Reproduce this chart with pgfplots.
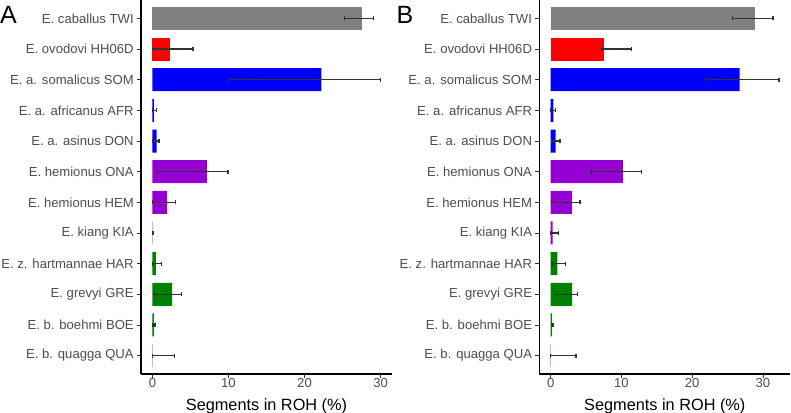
\documentclass[border=0pt]{standalone}
\usepackage{pgfplots}
\pgfplotsset{compat=1.18}
\usepackage{fontspec}
\setmainfont{Liberation Sans}
\definecolor{cgray}{RGB}{128,128,128}
\definecolor{cred}{RGB}{255,0,0}
\definecolor{cblue}{RGB}{0,0,255}
\definecolor{cviolet}{RGB}{148,0,211}
\definecolor{cgreen}{RGB}{0,128,0}
\definecolor{grey30}{RGB}{77,77,77}
\definecolor{grey20}{RGB}{51,51,51}
\begin{document}
\begin{tikzpicture}
\useasboundingbox (0,0) rectangle (791bp,413bp);
\pgfplotsset{
  panel/.style={
    anchor=south west, scale only axis, width=251bp, height=374bp,
    ymin=0.4, ymax=12.6, ytick={1,...,12},
    yticklabels={E. b. quagga QUA, E. b. boehmi BOE, E. grevyi GRE, E. z. hartmannae HAR, E. kiang KIA, E. hemionus HEM, E. hemionus ONA, E. a. asinus DON, E. a. africanus AFR, E. a. somalicus SOM, E. ovodovi HH06D, E. caballus TWI},
    xtick={0,10,20,30}, xticklabels={0,10,20,30},
    axis x line=bottom, axis y line=left,
    axis line style={-, black, line width=1.1bp},
    tick align=outside, major tick length=4.1bp,
    tick style={color=grey20, line width=0.8bp},
    yticklabel style={font=\fontsize{13.1bp}{15bp}\selectfont, text=grey30, anchor=east, inner sep=0pt, xshift=-3bp},
    xticklabel style={font=\fontsize{13.1bp}{15bp}\selectfont, text=grey30, anchor=north, inner sep=0pt},
    xlabel={Segments in ROH (\%)},
    xlabel style={font=\fontsize{16.3bp}{18bp}\selectfont, at={(axis description cs:0.5,0)}, anchor=base, yshift=-36bp},
    unbounded coords=jump,
  },
  bars/.style={xbar, bar width=0.75, bar shift=0pt, draw=none, forget plot},
  errs/.style={draw=black!80, line width=1.4bp, mark=|, mark size=2bp,
    mark options={draw=black!80, line width=1.3bp}, forget plot},
}
% Panel A
\begin{axis}[panel, at={(141bp,39bp)}, xmin=-1.5, xmax=31.5]
\addplot[bars, fill=cgray] coordinates {(27.5,12)};
\addplot[bars, fill=cred] coordinates {(2.3,11)};
\addplot[bars, fill=cblue] coordinates {(22.2,10) (0.2,9) (0.55,8)};
\addplot[bars, fill=cviolet] coordinates {(7.15,7) (1.95,6) (0.03,5)};
\addplot[bars, fill=cgreen] coordinates {(0.45,4) (2.6,3) (0.2,2) (0.02,1)};
% error bars: (lower,y) (upper,y)
\addplot[errs] coordinates {
 (25.3,12) (29.1,12) (nan,nan)
 (0.05,11) (5.35,11) (nan,nan)
 (10.0,10) (30.0,10) (nan,nan)
 (0.05,9) (0.5,9) (nan,nan)
 (0.05,8) (0.85,8) (nan,nan)
 (0.5,7) (9.95,7) (nan,nan)
 (0.05,6) (3.0,6) (nan,nan)
 (0.0,5) (0.1,5) (nan,nan)
 (0.05,4) (1.2,4) (nan,nan)
 (0.2,3) (3.8,3) (nan,nan)
 (0.05,2) (0.35,2) (nan,nan)
 (0.0,1) (2.9,1)};
\end{axis}
% Panel B
\begin{axis}[panel, at={(539.3bp,39bp)}, xmin=-1.61, xmax=33.86]
\addplot[bars, fill=cgray] coordinates {(28.8,12)};
\addplot[bars, fill=cred] coordinates {(7.55,11)};
\addplot[bars, fill=cblue] coordinates {(26.7,10) (0.37,9) (0.7,8)};
\addplot[bars, fill=cviolet] coordinates {(10.2,7) (3.0,6) (0.28,5)};
\addplot[bars, fill=cgreen] coordinates {(0.93,4) (3.04,3) (0.18,2) (0.04,1)};
\addplot[errs] coordinates {
 (25.7,12) (31.4,12) (nan,nan)
 (7.27,11) (11.45,11) (nan,nan)
 (21.9,10) (32.25,10) (nan,nan)
 (0.0,9) (0.65,9) (nan,nan)
 (0.08,8) (1.3,8) (nan,nan)
 (5.7,7) (12.85,7) (nan,nan)
 (0.14,6) (4.13,6) (nan,nan)
 (0.0,5) (1.07,5) (nan,nan)
 (0.18,4) (2.1,4) (nan,nan)
 (0.65,3) (3.75,3) (nan,nan)
 (0.14,2) (0.32,2) (nan,nan)
 (0.0,1) (3.56,1)};
\end{axis}
\node[anchor=base west, inner sep=0pt, font=\fontsize{25bp}{28bp}\selectfont] at (0bp,389bp) {A};
\node[anchor=base west, inner sep=0pt, font=\fontsize{25bp}{28bp}\selectfont] at (396.5bp,389bp) {B};
\end{tikzpicture}
\end{document}
